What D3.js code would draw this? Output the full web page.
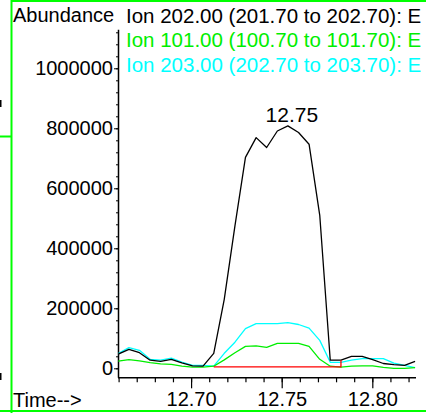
<!DOCTYPE html>
<html>
<head>
<meta charset="utf-8">
<script src="https://cdn.jsdelivr.net/npm/d3@7"></script>
<style>
  html, body { margin: 0; padding: 0; background: #fff; }
  svg { display: block; }
  text { font-family: "Liberation Sans", Arial, sans-serif; font-size: 20px; }
</style>
</head>
<body>
<svg id="chart" width="426" height="413"></svg>
<script>
// ---- data ----
const times = [12.6598, 12.6657, 12.6715, 12.6774, 12.6832, 12.6891, 12.6949, 12.7008, 12.7066, 12.7125,
  12.7183, 12.7242, 12.7300, 12.7359, 12.7417, 12.7476, 12.7534, 12.7593, 12.7651, 12.7710,
  12.7768, 12.7827, 12.7885, 12.7944, 12.8002, 12.8061, 12.8119, 12.8178, 12.8236];
const ion202 = [47000, 63000, 52000, 27000, 23000, 30000, 18000, 8000, 7000, 50000,
  230000, 475000, 703000, 769000, 736000, 791000, 808000, 786000, 747000, 510000,
  27000, 27000, 40000, 40000, 29000, 16000, 12000, 10000, 23000];
const ion203 = [49000, 69000, 60000, 30000, 27000, 34000, 21000, 10000, 10000, 7000,
  50000, 87000, 132000, 149000, 149000, 149000, 152000, 146000, 134000, 93000,
  20000, 20000, 27000, 32000, 32000, 32000, 17000, 10000, 2000];
const ion101 = [24000, 29000, 25000, 19000, 15000, 13000, 7000, 4000, 4000, 7000,
  28000, 52000, 73000, 75000, 70000, 83000, 83000, 83000, 73000, 30000,
  7000, 4000, 7000, 8000, 8000, 3000, 0, 0, 2000];
const baseTimes = [12.7125, 12.7827, 12.7827];
const baseValues = [5000, 5000, 27000];
const peakTime = 12.7534;
const peakValue = 808000;
const peakLabel = "12.75";
const legendLabels = [
  "Ion 202.00 (201.70 to 202.70): E",
  "Ion 101.00 (100.70 to 101.70): E",
  "Ion 203.00 (202.70 to 203.70): E"
];
const yMajorTicks = [0, 200000, 400000, 600000, 800000, 1000000];
const yMinorTicks = d3.range(0, 1130000, 40000);
const xMajorTicks = [12.70, 12.75, 12.80];
const xMinorTicks = [12.66, 12.67, 12.68, 12.69, 12.70, 12.71, 12.72, 12.73, 12.74, 12.75, 12.76, 12.77, 12.78, 12.79, 12.80, 12.81, 12.82];

// ---- drawing ----
const svg = d3.select("#chart");
const x = d3.scaleLinear().domain([12.66, 12.824]).range([118.6, 415.8]);
const y = d3.scaleLinear().domain([-30000, 1130000]).range([377.3, 29.3]);

// green frame decorations
const frame = svg.append("g").attr("stroke", "#00ff00").attr("stroke-width", 2);
frame.append("line").attr("x1", 11.5).attr("y1", 0).attr("x2", 11.5).attr("y2", 413);
frame.append("line").attr("x1", 11).attr("y1", 1).attr("x2", 426).attr("y2", 1);
frame.append("line").attr("x1", 0).attr("y1", 411).attr("x2", 426).attr("y2", 411);
frame.append("line").attr("x1", 0).attr("y1", 136.5).attr("x2", 11).attr("y2", 136.5);
svg.append("rect").attr("x", 0).attr("y", 100).attr("width", 1.5).attr("height", 7).attr("fill", "#000");
svg.append("rect").attr("x", 0).attr("y", 373).attr("width", 1.5).attr("height", 7).attr("fill", "#000");

// y axis
const yMinor = svg.append("g").attr("transform", "translate(118,0)")
  .call(d3.axisLeft(y).tickValues(yMinorTicks).tickSize(2).tickSizeOuter(0).tickFormat(""));
yMinor.select(".domain").attr("stroke-width", 1.5);
const yMajor = svg.append("g").attr("transform", "translate(118,0)")
  .call(d3.axisLeft(y).tickValues(yMajorTicks).tickSize(4).tickSizeOuter(0).tickPadding(1).tickFormat(d3.format("d")));
yMajor.select(".domain").remove();
yMajor.selectAll("text").style("font-size", "20px").attr("fill", "#000");

// x axis
const xMinor = svg.append("g").attr("transform", "translate(0,377.3)")
  .call(d3.axisBottom(x).tickValues(xMinorTicks).tickSize(5).tickSizeOuter(0).tickFormat(""));
xMinor.select(".domain").attr("stroke-width", 1.5).attr("d", "M118,0.5H416");
xMinor.selectAll(".tick line").attr("stroke-width", 1.2);
const xMajor = svg.append("g").attr("transform", "translate(0,377.3)")
  .call(d3.axisBottom(x).tickValues(xMajorTicks).tickSize(11).tickSizeOuter(0).tickPadding(4).tickFormat(d3.format(".2f")));
xMajor.select(".domain").remove();
xMajor.selectAll(".tick line").attr("stroke-width", 1.2);
xMajor.selectAll("text").style("font-size", "20px").attr("fill", "#000");

// traces
const line = d3.line().x(d => x(d[0])).y(d => y(d[1]));
const series = [
  { vals: ion203, color: "#00ffff" },
  { vals: ion101, color: "#00ee00" },
  { vals: ion202, color: "#000000" }
];
series.forEach(s => {
  svg.append("path")
    .datum(times.map((t, i) => [t, s.vals[i]]))
    .attr("fill", "none").attr("stroke", s.color).attr("stroke-width", 1.3)
    .attr("stroke-linejoin", "round").attr("d", line);
});
svg.append("path")
  .datum(baseTimes.map((t, i) => [t, baseValues[i]]))
  .attr("fill", "none").attr("stroke", "#ff0000").attr("stroke-width", 1.3).attr("d", line);

// peak label
svg.append("text").attr("x", x(peakTime) + 4).attr("y", y(peakValue) - 4)
  .attr("text-anchor", "middle").style("font-size", "21px").text(peakLabel);

// titles
svg.append("text").attr("x", 13).attr("y", 22).text("Abundance");
svg.append("text").attr("x", 13).attr("y", 407).text("Time-->");
const legendColors = ["#000000", "#00ee00", "#00ffff"];
legendLabels.forEach((l, i) => {
  svg.append("text").attr("x", 126).attr("y", 23 + i * 24.3).attr("fill", legendColors[i])
    .style("font-size", "20.5px").text(l);
});
</script>
</body>
</html>
